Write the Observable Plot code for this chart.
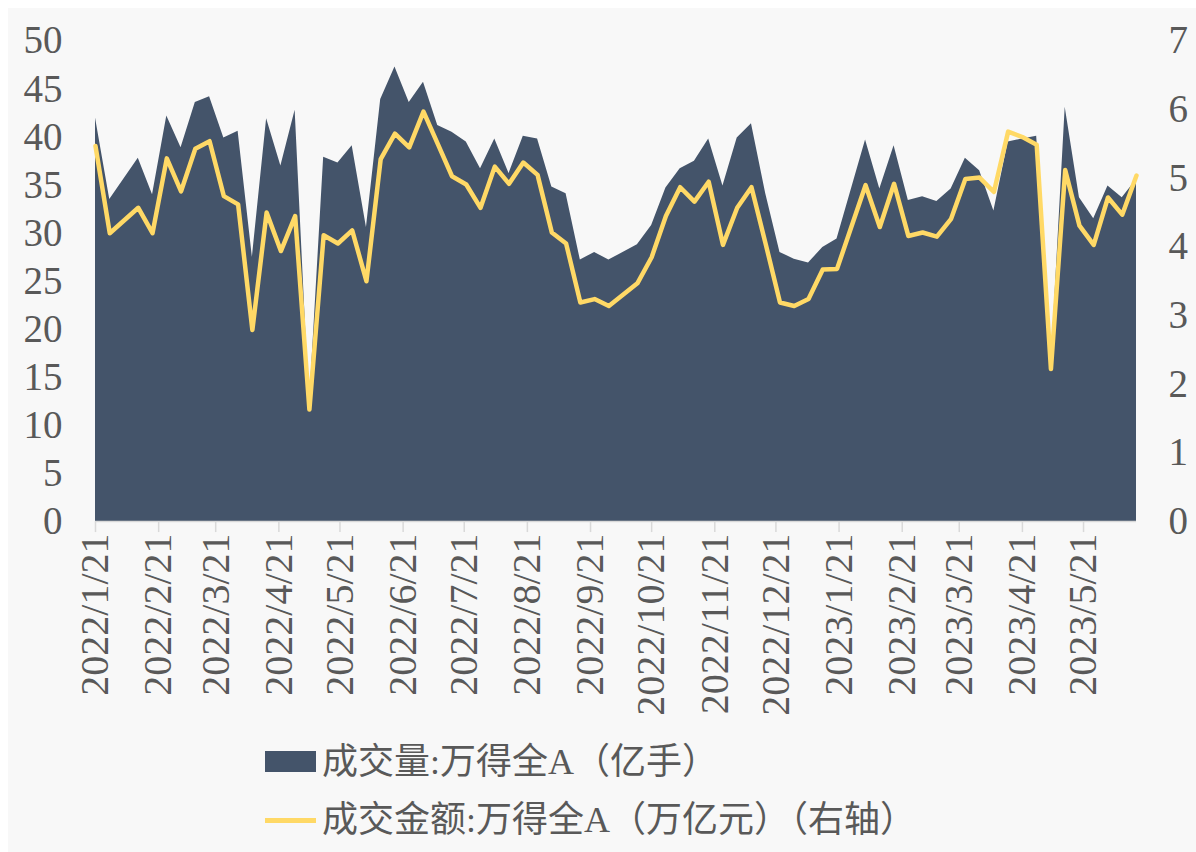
<!DOCTYPE html>
<html>
<head>
<meta charset="utf-8">
<script src="https://cdn.jsdelivr.net/npm/d3@7"></script>
<script src="https://cdn.jsdelivr.net/npm/@observablehq/plot@0.6"></script>
<style>
  html, body { margin: 0; padding: 0; background: #ffffff; }
  body { width: 1196px; height: 852px; position: relative; overflow: hidden; }
  #panel { position: absolute; left: 8px; top: 8px; width: 1188px; height: 844px; background: #F8F8F8; }
  #chart { position: absolute; left: 0; top: 0; }
  .leg { position: absolute; font-family: "Liberation Serif", "Noto Sans CJK SC", serif; font-size: 36px; color: #595959; line-height: 1; white-space: nowrap; }
  .sw { position: absolute; }
</style>
</head>
<body>
<div id="panel">
  <div id="chart"></div>
</div>
<div class="sw" style="left:265px; top:751px; width:51px; height:21px; background:#44546A;"></div>
<div class="leg" style="left:322px; top:744px;">成交量:万得全A（亿手）</div>
<div class="sw" style="left:265px; top:818px; width:51px; height:5px; background:#FFD966;"></div>
<div class="leg" style="left:322px; top:802px;">成交金额:万得全A（万亿元）（右轴）</div>
<script>
// Weekly dates (holiday weeks with no trading are absent)
const dates = [
  "2022-01-21","2022-01-28","2022-02-11","2022-02-18","2022-02-25",
  "2022-03-04","2022-03-11","2022-03-18","2022-03-25",
  "2022-04-01","2022-04-08","2022-04-15","2022-04-22","2022-04-29",
  "2022-05-06","2022-05-13","2022-05-20","2022-05-27",
  "2022-06-03","2022-06-10","2022-06-17","2022-06-24",
  "2022-07-01","2022-07-08","2022-07-15","2022-07-22","2022-07-29",
  "2022-08-05","2022-08-12","2022-08-19","2022-08-26",
  "2022-09-02","2022-09-09","2022-09-16","2022-09-23","2022-09-30",
  "2022-10-14","2022-10-21","2022-10-28",
  "2022-11-04","2022-11-11","2022-11-18","2022-11-25",
  "2022-12-02","2022-12-09","2022-12-16","2022-12-23","2022-12-30",
  "2023-01-06","2023-01-13","2023-01-20",
  "2023-02-03","2023-02-10","2023-02-17","2023-02-24",
  "2023-03-03","2023-03-10","2023-03-17","2023-03-24","2023-03-31",
  "2023-04-07","2023-04-14","2023-04-21","2023-04-28",
  "2023-05-05","2023-05-12","2023-05-19","2023-05-26",
  "2023-06-02","2023-06-09","2023-06-16"
];
// 成交量:万得全A（亿手）
const volume = [
  42.0,33.5,37.8,34.0,42.2,
  38.9,43.6,44.2,39.9,
  40.6,27.5,41.9,37.0,42.8,
  12.0,37.9,37.3,39.1,
  30.6,43.9,47.3,43.6,
  45.7,41.2,40.5,39.5,36.7,
  39.8,36.2,40.1,39.8,
  34.8,34.1,27.2,28.0,27.2,
  28.8,30.8,34.7,
  36.7,37.5,39.8,34.9,
  39.9,41.4,34.1,28.0,27.3,
  26.9,28.5,29.4,
  39.7,34.6,39.1,33.4,
  33.8,33.3,34.6,37.8,36.5,
  32.3,39.5,39.8,40.1,
  15.9,43.1,33.7,31.5,
  34.9,33.7,35.6
];
// 成交金额:万得全A（万亿元）（右轴）
const amount = [
  5.47,4.20,4.57,4.20,5.29,
  4.81,5.43,5.54,4.74,
  4.62,2.79,4.50,3.94,4.45,
  1.63,4.17,4.05,4.24,
  3.50,5.28,5.65,5.45,
  5.97,5.50,5.03,4.91,4.57,
  5.17,4.92,5.23,5.05,
  4.21,4.05,3.19,3.24,3.14,
  3.47,3.85,4.45,
  4.87,4.66,4.95,4.03,
  4.57,4.87,4.04,3.19,3.14,
  3.24,3.67,3.68,
  4.90,4.29,4.92,4.16,
  4.21,4.15,4.41,4.99,5.01,
  4.80,5.68,5.60,5.49,
  2.22,5.12,4.31,4.03,
  4.72,4.47,5.04
];
const xTickLabels = [
  "2022/1/21","2022/2/21","2022/3/21","2022/4/21","2022/5/21","2022/6/21",
  "2022/7/21","2022/8/21","2022/9/21","2022/10/21","2022/11/21","2022/12/21",
  "2023/1/21","2023/2/21","2023/3/21","2023/4/21","2023/5/21"
];
const leftTicks = [0,5,10,15,20,25,30,35,40,45,50];
const rightTicks = [0,1,2,3,4,5,6,7];

const LEFT_MAX = 50, RIGHT_MAX = 7;
const parse = s => new Date(s + "T00:00:00Z");
const data = dates.map((d, i) => ({date: parse(d), vol: volume[i], amt: amount[i]}));
const tickDates = xTickLabels.map(s => { const [y,m,d] = s.split("/").map(Number); return new Date(Date.UTC(y, m-1, d)); });
const labelOf = new Map(tickDates.map((d, i) => [+d, xTickLabels[i]]));
const toLeft = v => v * LEFT_MAX / RIGHT_MAX;

const textColor = "#595959";
const font = "'Liberation Serif', 'Noto Sans CJK SC', serif";

const chart = Plot.plot({
  width: 1188,
  height: 720,
  marginLeft: 87,
  marginRight: 60,
  marginTop: 32.5,
  marginBottom: 207,
  style: {background: "transparent", fontFamily: font, fontSize: "40px", color: textColor, overflow: "visible"},
  x: {type: "utc", domain: [data[0].date, data[data.length-1].date], axis: null},
  y: {domain: [0, LEFT_MAX], axis: null},
  marks: [
    Plot.areaY(data, {x: "date", y: "vol", fill: "#44546A"}),
    Plot.ruleY([0], {stroke: "#D9D9D9", strokeWidth: 1.5}),
    Plot.ruleX(tickDates, {x: d => d, y1: 0, y2: -1.15, stroke: "#D9D9D9", strokeWidth: 1.5}),
    Plot.lineY(data, {x: "date", y: d => toLeft(d.amt), stroke: "#FFD966", strokeWidth: 4.5, strokeLinejoin: "round"}),
    Plot.axisY({anchor: "left", ticks: leftTicks, tickSize: 0, tickPadding: 33, label: null, fontSize: 39, fill: textColor}),
    Plot.axisY({anchor: "right", ticks: rightTicks.map(toLeft), tickFormat: v => String(Math.round(v * RIGHT_MAX / LEFT_MAX)), tickSize: 0, tickPadding: 32, label: null, fontSize: 39, fill: textColor, textAnchor: "start"}),
    Plot.text(tickDates, {x: d => d, frameAnchor: "bottom", text: d => labelOf.get(+d), rotate: -90, textAnchor: "end", lineAnchor: "middle", dy: 12, fontSize: 40, fill: textColor})
  ]
});
document.getElementById("chart").appendChild(chart);
</script>
</body>
</html>
